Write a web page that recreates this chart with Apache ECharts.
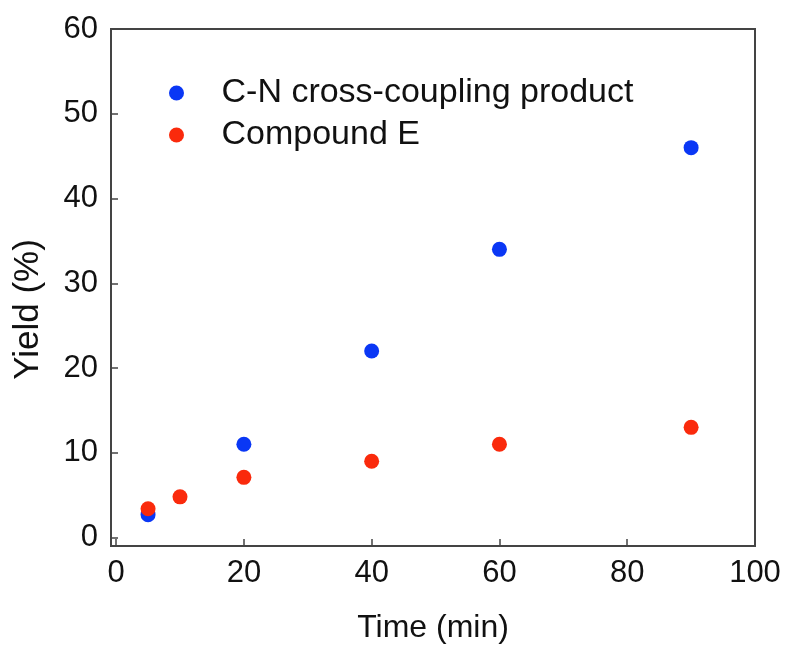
<!DOCTYPE html>
<html><head><meta charset="utf-8">
<script src="https://cdn.jsdelivr.net/npm/echarts@6/dist/echarts.min.js"></script>
<style>html,body{margin:0;padding:0;background:#fff}#c{width:788px;height:649px}</style>
</head><body><div id="c"></div>
<script>
const seriesNames = ['C-N cross-coupling product', 'Compound E'];
const cnTime = [5, 20, 40, 60, 90];
const cnYield = [2.7, 11, 22, 34, 46];
const eTime = [5, 10, 20, 40, 60, 90];
const eYield = [3.4, 4.8, 7.1, 9, 11, 13];
const xTicks = [0, 20, 40, 60, 80, 100];
const yTicks = [0, 10, 20, 30, 40, 50, 60];

const font = 'Liberation Sans, Arial, sans-serif';
const axisColor = '#444';
const chart = echarts.init(document.getElementById('c'));
chart.setOption({
  animation: false,
  grid: { left: 111, right: 33, top: 29, bottom: 103, show: true, borderColor: axisColor, borderWidth: 2, containLabel: false },
  legend: {
    orient: 'vertical', left: 164, top: 71, icon: 'circle', itemWidth: 80, itemHeight: 15, itemGap: 8,
    textStyle: { fontFamily: font, fontSize: 34, lineHeight: 33, color: '#111', padding: [0,0,0,0] },
    data: seriesNames
  },
  xAxis: {
    type: 'value', min: -0.8, max: 100,
    name: 'Time (min)', nameLocation: 'middle', nameGap: 66,
    nameTextStyle: { fontFamily: font, fontSize: 32, color: '#111' },
    axisLine: { show: true, onZero: false, lineStyle: { color: axisColor, width: 2 } },
    axisTick: { show: true, inside: true, length: 7, customValues: xTicks, lineStyle: { color: axisColor, width: 1.5 } },
    axisLabel: { fontFamily: font, fontSize: 31, color: '#111', margin: 12, customValues: xTicks },
    splitLine: { show: false }
  },
  yAxis: {
    type: 'value', min: -1, max: 60,
    name: 'Yield (%)', nameLocation: 'middle', nameGap: 65,
    nameTextStyle: { fontFamily: font, fontSize: 35, color: '#111', padding: [0, 44, 0, 0] },
    axisLine: { show: true, onZero: false, lineStyle: { color: axisColor, width: 2 } },
    axisTick: { show: true, inside: true, length: 7, customValues: yTicks, lineStyle: { color: axisColor, width: 1.5 } },
    axisLabel: { fontFamily: font, fontSize: 31, color: '#111', margin: 13, customValues: yTicks },
    splitLine: { show: false }
  },
  series: [
    { name: seriesNames[0], type: 'scatter', symbol: 'circle', symbolSize: 15,
      itemStyle: { color: '#0a37f5', opacity: 1 },
      data: cnTime.map((t, i) => [t, cnYield[i]]) },
    { name: seriesNames[1], type: 'scatter', symbol: 'circle', symbolSize: 15,
      itemStyle: { color: '#fa2a0c', opacity: 1 },
      data: eTime.map((t, i) => [t, eYield[i]]) }
  ]
});
</script></body></html>
